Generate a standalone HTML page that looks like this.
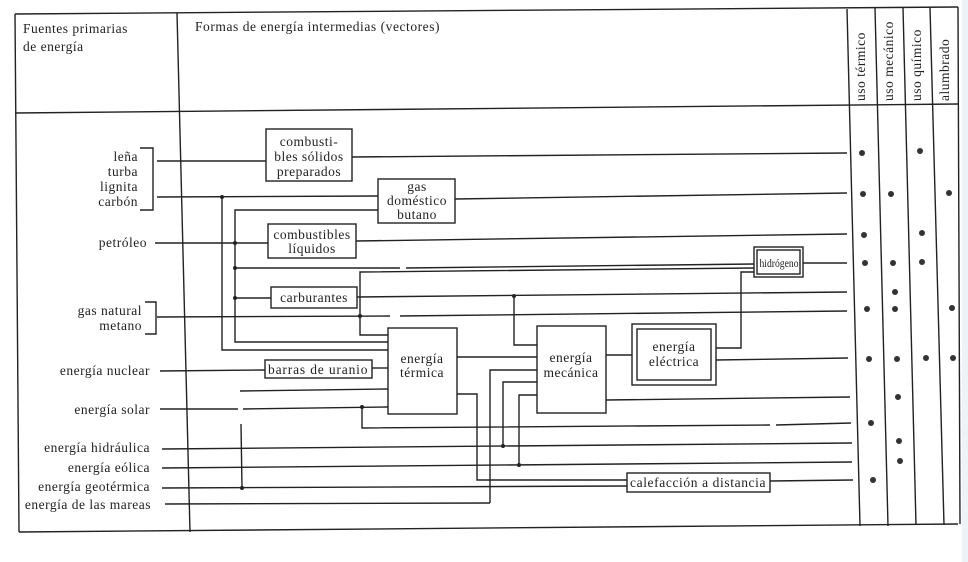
<!DOCTYPE html>
<html><head><meta charset="utf-8"><style>
body{margin:0;background:#fff}
svg{display:block}
text{font-family:"Liberation Serif","DejaVu Serif",serif;font-size:13.5px;fill:#222;letter-spacing:0.5px}
</style></head><body>
<svg width="968" height="562" viewBox="0 0 968 562" xmlns="http://www.w3.org/2000/svg">
<rect x="962" y="0" width="6" height="562" fill="#eef3f8"/>
<g stroke="#222" stroke-width="1.4" fill="none">
<line x1="15" y1="14" x2="958" y2="7"/>
<line x1="15" y1="14" x2="19" y2="532"/>
<line x1="19" y1="532" x2="958" y2="524"/>
<line x1="958" y1="7" x2="960" y2="524"/>
<line x1="177" y1="13" x2="190" y2="532"/>
<line x1="15" y1="113" x2="958" y2="104"/>
<line x1="847" y1="9" x2="860" y2="526"/>
<line x1="875" y1="8" x2="888" y2="526"/>
<line x1="903" y1="8" x2="916" y2="525"/>
<line x1="930" y1="8" x2="944" y2="525"/>
<polyline points="140,148 153,148 153,210 140,210"/>
<polyline points="145,302 156,302 156,334 145,334"/>
<rect x="266" y="129" width="86" height="52"/>
<rect x="378" y="179" width="77" height="44"/>
<rect x="268" y="224" width="88" height="34"/>
<rect x="271" y="287" width="86" height="21"/>
<rect x="388" y="328" width="69" height="86"/>
<rect x="265" y="360" width="107" height="18"/>
<rect x="537" y="326" width="69" height="87"/>
<rect x="632" y="324" width="84" height="61"/>
<rect x="637" y="329" width="74" height="51"/>
<rect x="754" y="247" width="49" height="30"/>
<rect x="757" y="250" width="43" height="24"/>
<rect x="627" y="473" width="143" height="19"/>
<line x1="157" y1="161" x2="266" y2="161"/>
<line x1="352" y1="157" x2="847" y2="153"/>
<line x1="157" y1="197" x2="378" y2="196"/>
<line x1="455" y1="199" x2="847" y2="193"/>
<polyline points="222,197 222,350 388,350"/>
<polyline points="378,210 235,210 235,342 388,342"/>
<line x1="155" y1="243" x2="268" y2="243"/>
<line x1="356" y1="241" x2="847" y2="234"/>
<line x1="235" y1="268" x2="400" y2="268"/>
<line x1="406" y1="268" x2="754" y2="264"/>
<polyline points="388,335 360,335 360,272 754,268"/>
<line x1="235" y1="298" x2="271" y2="298"/>
<line x1="357" y1="297" x2="847" y2="292"/>
<polyline points="514,296 514,345 537,345"/>
<line x1="157" y1="317" x2="390" y2="316"/>
<line x1="400" y1="316" x2="847" y2="311"/>
<line x1="803" y1="263" x2="847" y2="263"/>
<line x1="160" y1="371" x2="265" y2="370"/>
<line x1="372" y1="368" x2="388" y2="368"/>
<line x1="457" y1="357" x2="537" y2="357"/>
<line x1="606" y1="355" x2="632" y2="355"/>
<polyline points="716,348 741,348 741,272 754,272"/>
<line x1="716" y1="360" x2="848" y2="358"/>
<line x1="606" y1="400" x2="850" y2="397"/>
<polyline points="457,394 477,394 477,480 627,480"/>
<polyline points="537,370 490,370 490,503"/>
<polyline points="537,382 503,382 503,446"/>
<polyline points="537,395 519,395 519,465"/>
<line x1="160" y1="409" x2="238" y2="409"/>
<line x1="243" y1="409" x2="388" y2="407"/>
<polyline points="362,407 362,428 770,425"/>
<line x1="776" y1="425" x2="851" y2="423"/>
<line x1="240" y1="391" x2="388" y2="389"/>
<line x1="241" y1="424" x2="242" y2="488"/>
<line x1="162" y1="449" x2="852" y2="443"/>
<line x1="162" y1="468" x2="852" y2="462"/>
<line x1="162" y1="488" x2="627" y2="486"/>
<line x1="770" y1="481" x2="853" y2="480"/>
<line x1="165" y1="504" x2="490" y2="503"/>
</g>
<g fill="#222">
<circle cx="222" cy="197" r="2"/><circle cx="235" cy="243" r="2"/><circle cx="235" cy="268" r="2"/>
<circle cx="235" cy="298" r="2"/><circle cx="360" cy="316" r="2"/><circle cx="514" cy="296" r="2"/>
<circle cx="362" cy="407" r="2"/><circle cx="242" cy="488" r="2"/><circle cx="503" cy="446" r="2"/><circle cx="519" cy="465" r="2"/>
</g>
<g fill="#333">
<circle cx="862" cy="153" r="3"/><circle cx="920" cy="151" r="3"/>
<circle cx="863" cy="194" r="3"/><circle cx="891" cy="194" r="3"/><circle cx="949" cy="193" r="3"/>
<circle cx="864" cy="235" r="3"/><circle cx="922" cy="233" r="3"/>
<circle cx="865" cy="263" r="3"/><circle cx="893" cy="263" r="3"/><circle cx="922" cy="262" r="3"/>
<circle cx="895" cy="292" r="3"/>
<circle cx="867" cy="309" r="3"/><circle cx="895" cy="309" r="3"/><circle cx="952" cy="308" r="3"/>
<circle cx="869" cy="359" r="3"/><circle cx="897" cy="359" r="3"/><circle cx="926" cy="358" r="3"/><circle cx="953" cy="358" r="3"/>
<circle cx="898" cy="397" r="3"/><circle cx="871" cy="423" r="3"/><circle cx="899" cy="441" r="3"/><circle cx="900" cy="461" r="3"/><circle cx="873" cy="480" r="3"/>
</g>
<text x="23" y="33">Fuentes primarias</text>
<text x="23" y="51">de energía</text>
<text x="195" y="31" textLength="245">Formas de energía intermedias (vectores)</text>
<text x="865" y="101" transform="rotate(-90 865 101)">uso térmico</text>
<text x="893" y="101" transform="rotate(-90 893 101)">uso mecánico</text>
<text x="921" y="101" transform="rotate(-90 921 101)">uso químico</text>
<text x="949" y="101" transform="rotate(-90 949 101)">alumbrado</text>
<g text-anchor="end">
<text x="138" y="161">leña</text>
<text x="138" y="176">turba</text>
<text x="138" y="191">lignita</text>
<text x="138" y="206">carbón</text>
<text x="147" y="247">petróleo</text>
<text x="142" y="315">gas natural</text>
<text x="142" y="330">metano</text>
<text x="150" y="375">energía nuclear</text>
<text x="150" y="414">energía solar</text>
<text x="150" y="452">energía hidráulica</text>
<text x="150" y="472">energía eólica</text>
<text x="150" y="491">energía geotérmica</text>
<text x="151" y="509">energía de las mareas</text>
</g>
<g text-anchor="middle">
<text x="309" y="146">combusti-</text>
<text x="309" y="161">bles sólidos</text>
<text x="309" y="176">preparados</text>
<text x="417" y="191">gas</text>
<text x="417" y="205">doméstico</text>
<text x="417" y="219">butano</text>
<text x="312" y="239">combustibles</text>
<text x="312" y="253">líquidos</text>
<text x="314" y="302">carburantes</text>
<text x="318" y="374" textLength="100">barras de uranio</text>
<text x="422" y="363">energía</text>
<text x="422" y="377">térmica</text>
<text x="571" y="362">energía</text>
<text x="571" y="377">mecánica</text>
<text x="674" y="351">energía</text>
<text x="674" y="366">eléctrica</text>
<text x="779" y="267" style="font-size:12px;letter-spacing:0" textLength="39" lengthAdjust="spacingAndGlyphs">hidrógeno</text>
<text x="698" y="487" textLength="136">calefacción a distancia</text>
</g>
</svg>
</body></html>
